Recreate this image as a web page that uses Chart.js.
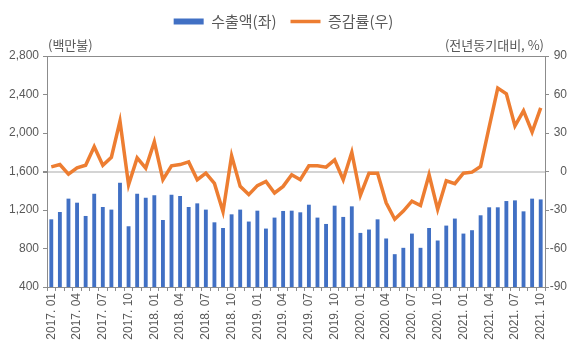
<!DOCTYPE html>
<html>
<head>
<meta charset="utf-8">
<script src="https://cdn.jsdelivr.net/npm/chart.js@4.4.1/dist/chart.umd.min.js"></script>
<style>
  body { margin: 0; background: #fff; }
  #wrap { width: 580px; height: 360px; }
</style>
</head>
<body>
<div id="wrap"><canvas id="chart"></canvas></div>
<script>
// months 2017.01 ~ 2021.10
var years = ['2017', '2018', '2019', '2020', '2021'];
var months = ['01', '02', '03', '04', '05', '06', '07', '08', '09', '10', '11', '12'];
var labels = [];
years.forEach(function(y) {
    months.forEach(function(m) {
        if (labels.length < 58) labels.push(y + '. ' + m);
    });
});

// 수출액 (백만불)
var exportAmt = [
    1103, 1179, 1318, 1276, 1138, 1369, 1231, 1204, 1483, 1031, 1369, 1328,
    1352, 1096, 1359, 1345, 1231, 1269, 1204, 1072, 1013, 1155, 1204, 1080,
    1193, 1007, 1121, 1190, 1193, 1176, 1255, 1121, 1055, 1245, 1128, 1238,
    962, 997, 1103, 904, 741, 807, 955, 807, 1013, 883, 1038, 1111,
    955, 990, 1145, 1228, 1228, 1293, 1300, 1186, 1318, 1310
];

// 증감률 (전년동기대비, %)
var growthRate = [
    3.6, 5.4, -2, 2.9, 4.9, 19.3, 4.9, 11.1, 39.3, -10.3, 10.6, 2.6,
    23.1, -6.4, 4.4, 5.4, 7.5, -6.4, -1.3, -9.3, -31.3, 12.3, -11.6, -18,
    -11, -7.7, -16.7, -11.6, -2.5, -6.4, 4.4, 4.4, 3.4, 9, -6.4, 15,
    -18.5, -1.3, -1.3, -24.4, -37.2, -30.8, -23.1, -26.5, -2.5, -29.5, -7.2, -9.5,
    -1.3, -0.5, 3.9, 34.7, 65, 60.5, 35.5, 47.3, 30.8, 49.6
];

var leftTicks = [400, 800, 1200, 1600, 2000, 2400, 2800];
var rightTicks = [-90, -60, -30, 0, 30, 60, 90];

var axisGray = '#8c8c8c';
var textGray = '#595959';

// extra room under the legend for the unit captions
var legendGap = {
    id: 'legendGap',
    beforeInit: function(chart) {
        var fit = chart.legend.fit;
        chart.legend.fit = function() {
            fit.bind(chart.legend)();
            this.height += 17;
        };
    }
};

// unit captions above the plot
var unitTitles = {
    id: 'unitTitles',
    afterDraw: function(chart) {
        var ctx = chart.ctx, a = chart.chartArea;
        ctx.save();
        ctx.fillStyle = textGray;
        ctx.font = '13px "Noto Sans CJK KR", "Noto Sans", sans-serif';
        ctx.textBaseline = 'middle';
        ctx.textAlign = 'left';
        ctx.fillText('(백만불)', a.left + 1, a.top - 11);
        ctx.textAlign = 'right';
        ctx.fillText('(전년동기대비, %)', a.right - 1, a.top - 11);
        ctx.restore();
    }
};

new Chart(document.getElementById('chart'), {
    type: 'bar',
    data: {
        labels: labels,
        datasets: [
            {
                label: '수출액(좌)',
                data: exportAmt,
                backgroundColor: '#4170C4',
                borderWidth: 0,
                barPercentage: 0.5,
                categoryPercentage: 0.9,
                pointStyle: 'rect',
                yAxisID: 'y',
                order: 2
            },
            {
                type: 'line',
                label: '증감률(우)',
                data: growthRate,
                borderColor: '#ED7D31',
                backgroundColor: '#ED7D31',
                borderWidth: 3.5,
                pointRadius: 0,
                pointStyle: 'line',
                tension: 0,
                yAxisID: 'y1',
                order: 1
            }
        ]
    },
    options: {
        responsive: true,
        maintainAspectRatio: false,
        animation: false,
        layout: { padding: { left: 0, right: 13, top: 0, bottom: 0 } },
        plugins: {
            legend: {
                position: 'top',
                labels: {
                    usePointStyle: true,
                    pointStyleWidth: 30,
                    boxHeight: 6,
                    padding: 14,
                    color: textGray,
                    font: { family: '"Noto Sans CJK KR", "Noto Sans", sans-serif', size: 15 },
                    sort: function(a, b) { return a.datasetIndex - b.datasetIndex; }
                }
            },
            tooltip: { enabled: false }
        },
        scales: {
            x: {
                grid: { drawOnChartArea: false, color: axisGray, tickLength: 4 },
                border: { color: axisGray, width: 1 },
                ticks: {
                    autoSkip: false,
                    minRotation: 90,
                    maxRotation: 90,
                    padding: 2,
                    color: textGray,
                    font: { family: '"Liberation Sans", Arial, sans-serif', size: 12 },
                    callback: function(v, i) { return i % 3 === 0 ? labels[i] : ''; }
                },
                afterFit: function(s) { s.height = 73; }
            },
            y: {
                position: 'left',
                min: leftTicks[0],
                max: leftTicks[leftTicks.length - 1],
                grid: {
                    color: function(c) {
                        if (c.tick.value === 2800) return axisGray;
                        if (c.tick.value === 1600) return '#d4d4d4';
                        return 'rgba(0,0,0,0)';
                    },
                    lineWidth: function(c) { return c.tick.value === 1600 ? 2 : 1; },
                    tickColor: axisGray,
                    tickLength: 4
                },
                border: { color: axisGray, width: 1 },
                ticks: {
                    stepSize: 400,
                    padding: 4,
                    color: textGray,
                    font: { family: '"Liberation Sans", Arial, sans-serif', size: 12 },
                    callback: function(v) { return v.toLocaleString('en-US'); }
                },
                afterFit: function(s) { s.width = 47; }
            },
            y1: {
                position: 'right',
                min: rightTicks[0],
                max: rightTicks[rightTicks.length - 1],
                grid: { drawOnChartArea: false, color: axisGray, tickLength: 4 },
                border: { color: axisGray, width: 1 },
                ticks: {
                    stepSize: 30,
                    padding: 4,
                    crossAlign: 'far',
                    color: textGray,
                    font: { family: '"Liberation Sans", Arial, sans-serif', size: 12 }
                },
                afterFit: function(s) { s.width = 22; }
            }
        }
    },
    plugins: [legendGap, unitTitles]
});
</script>
</body>
</html>
